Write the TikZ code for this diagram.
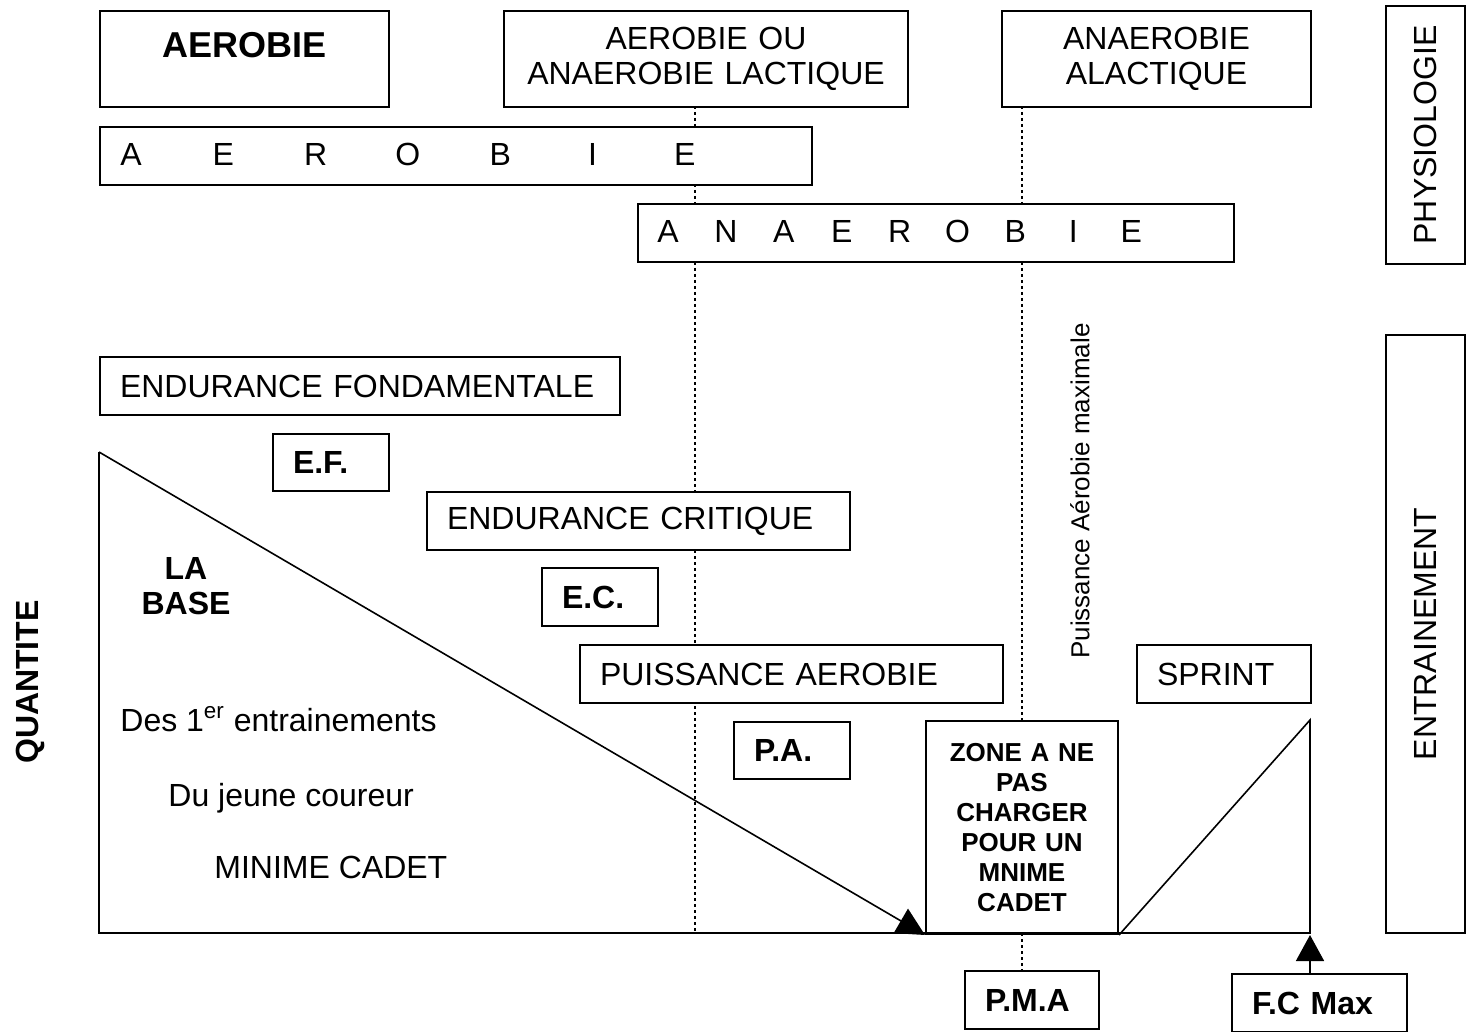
\documentclass[tikz,border=0pt]{standalone}
\usepackage{fontspec}
\setmainfont{Liberation Sans}
\usetikzlibrary{arrows.meta}

\begin{document}
\begin{tikzpicture}[
                x=0.5pt, y=-0.5pt,
                every node/.style={inner sep=0pt, font=\fontsize{16}{17.5}\selectfont},
                boite/.style={draw, fill=white, line width=1pt, anchor=north west,
                              inner xsep=10pt, align=left},
                centre/.style={boite, align=center},
                gras/.style={font=\fontsize{16}{17.5}\selectfont\bfseries},
                trait/.style={line width=0.8pt},
                pointille/.style={line width=1pt, dash pattern=on 1.5pt off 1.5pt}
            ]
            \useasboundingbox (0,0) rectangle (1473,1032);

            % seuils
            \coordinate (s1) at (695,106);
            \coordinate (s1b) at (695,933);
            \coordinate (s2) at (1022,106);
            \draw[pointille] (s1) -- (s1b);
            \draw[pointille] (s2) -- (s2 |- 0,720);
            \draw[pointille] (s2 |- 0,933) -- (s2 |- 0,970);

            % physiologie
            \node[centre, text width=124.5pt, minimum height=48pt, text height=13pt, text depth=14pt,
                  font=\fontsize{18}{20}\selectfont\bfseries] (aero) at (99,10) {AEROBIE};
            \node[centre, text width=182pt, minimum height=48pt] (lact) at (503,10) {AEROBIE OU\\ANAEROBIE LACTIQUE};
            \node[centre, text width=134.5pt, minimum height=48pt] (alact) at (1001,10) {ANAEROBIE\\ALACTIQUE};
            \node[boite, rotate=90, anchor=center, minimum width=125pt, minimum height=39.5pt] (physio) at (1425.5,135) {PHYSIOLOGIE};

            \node[boite, minimum width=356pt, minimum height=29pt] (aerobie) at (99,126) {};
            \foreach \l [count=\i from 0] in {A,E,R,O,B,I,E} {
                \node[anchor=base] (ae\i) at (131+92.3*\i, 166) {\l};
            }
            \node[boite, minimum width=298pt, minimum height=29pt] (anaerobie) at (637,203) {};
            \foreach \l [count=\i from 0] in {A,N,A,E,R,O,B,I,E} {
                \node[anchor=base] (an\i) at (668+57.9*\i, 243) {\l};
            }

            % entrainement
            \node[boite, text width=240pt, minimum height=29pt] (endfond) at (99,356) {ENDURANCE FONDAMENTALE};
            \node[boite, gras, text width=38pt, minimum height=28.5pt] (ef) at (272,433) {E.F.};
            \node[boite, text width=191.5pt, minimum height=29pt] (endcrit) at (426,491) {ENDURANCE CRITIQUE};
            \node[boite, gras, text width=38pt, minimum height=29pt] (ec) at (541,567) {E.C.};
            \node[boite, text width=191.5pt, minimum height=29pt] (puissance) at (579,644) {PUISSANCE AEROBIE};
            \node[boite, text width=67pt, minimum height=29pt] (sprint) at (1136,644) {SPRINT};
            \node[boite, gras, text width=38pt, minimum height=28.5pt] (pa) at (733,721) {P.A.};
            \node[centre, text width=76pt, minimum height=106.5pt, font=\fontsize{13}{15}\selectfont\bfseries] (zone) at (925,720)
                {ZONE A NE\\PAS\\CHARGER\\POUR UN\\MNIME\\CADET};
            \node[boite, rotate=90, anchor=center, minimum width=299pt, minimum height=39.5pt] (entr) at (1425.5,634) {ENTRAINEMENT};
            \node[boite, gras, text width=47pt, minimum height=29pt] (pma) at (964,970) {P.M.A};
            \node[boite, gras, text width=67.5pt, minimum height=29pt] (fcmax) at (1231,973) {F.C Max};

            % quantite
            \coordinate (sommet) at (99,452);
            \coordinate (origine) at (99,933);
            \coordinate (fin) at (1310,933);
            \coordinate (pic) at (1310,720);
            \coordinate (fcpic) at (1310,935);
            \draw[trait] (sommet) -- (origine) -- (fin) -- (pic) -- (zone.south east);
            \draw[trait, -{Triangle[length=14pt, width=14pt]}] (sommet) -- (zone.south west);
            \draw[trait, -{Triangle[length=13pt, width=14pt]}] (fcmax.north -| fcpic) -- (fcpic);

            \node[gras, align=center] (base) at (186,586) {LA\\BASE};
            \node[anchor=base west] (des) at (120,731) {Des 1\textsuperscript{er} entrainements};
            \node[anchor=base west] (jeune) at (168,806) {Du jeune coureur};
            \node[anchor=base west] (minime) at (214,878) {MINIME CADET};
            \node[rotate=90, font=\fontsize{13}{15}\selectfont] (pam) at (1080,491) {Puissance Aérobie maximale};
            \node[gras, rotate=90] (quantite) at (30,682) {QUANTITE};
        \end{tikzpicture}
\end{document}
